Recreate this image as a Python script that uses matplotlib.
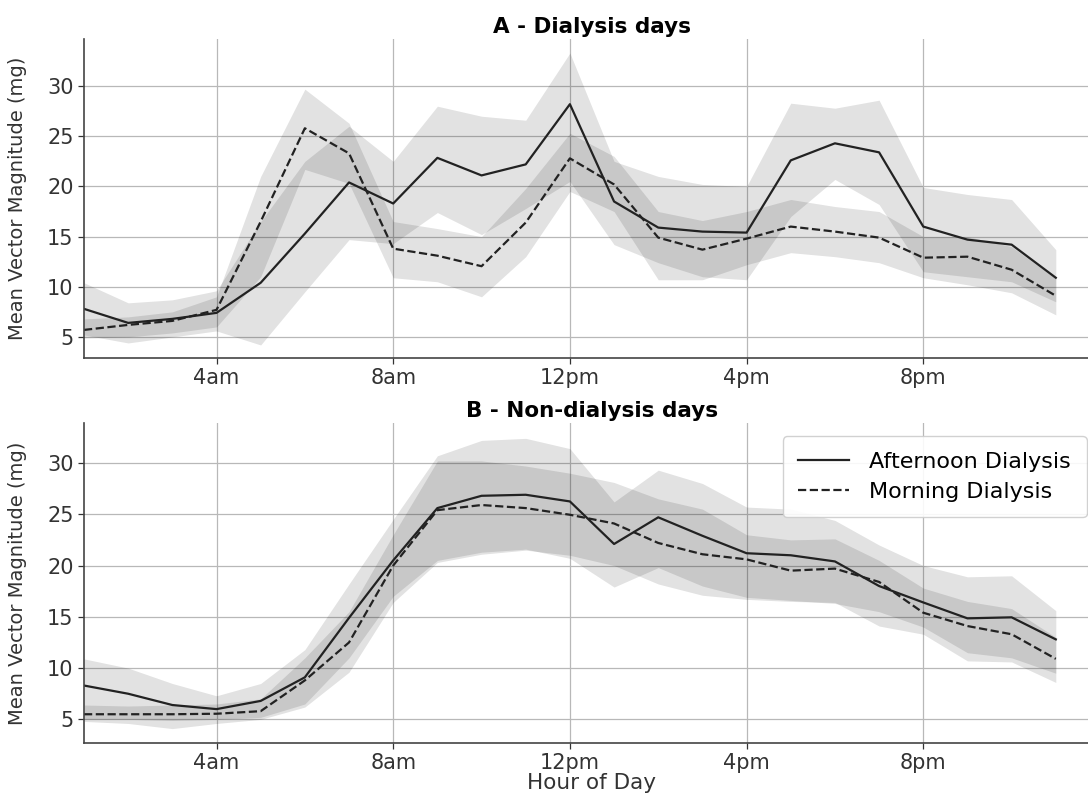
import numpy as np
import matplotlib.pyplot as plt

# hours of the day (1am .. 11pm)
hours = np.arange(1, 24)
tick_pos = [4, 8, 12, 16, 20]
tick_labels = ['4am', '8am', '12pm', '4pm', '8pm']

# A - dialysis days
dial_aft = [7.8, 6.4, 6.8, 7.4, 10.4, 15.3, 20.4, 18.3, 22.85, 21.1, 22.2, 28.2,
            18.5, 15.9, 15.5, 15.4, 22.6, 24.3, 23.4, 16.0, 14.7, 14.2, 10.9]
dial_aft_lo = [5.2, 4.4, 5.0, 5.6, 4.2, 9.5, 14.7, 14.3, 17.4, 15.2, 17.8, 20.5,
               14.2, 12.4, 11.0, 10.7, 17.0, 20.7, 18.2, 11.5, 11.0, 10.5, 8.5]
dial_aft_hi = [10.4, 8.4, 8.7, 9.6, 16.5, 22.5, 26.0, 22.5, 28.0, 27.0, 26.6, 33.3,
               22.5, 21.0, 20.2, 20.0, 28.3, 27.8, 28.6, 19.9, 19.2, 18.7, 13.7]
dial_mor = [5.7, 6.2, 6.6, 7.7, 16.5, 25.8, 23.3, 13.8, 13.1, 12.05, 16.4, 22.8,
            20.2, 14.9, 13.7, 14.8, 16.0, 15.5, 14.9, 12.9, 13.0, 11.7, 9.1]
dial_mor_lo = [4.9, 5.0, 5.4, 6.0, 11.0, 21.7, 20.3, 10.9, 10.5, 9.0, 13.0, 19.5,
               17.5, 10.7, 10.7, 12.2, 13.4, 13.0, 12.4, 10.9, 10.2, 9.4, 7.2]
dial_mor_hi = [6.8, 7.0, 7.5, 9.0, 21.0, 29.7, 26.3, 16.5, 15.8, 15.0, 19.8, 25.3,
               23.0, 17.5, 16.6, 17.5, 18.7, 18.0, 17.5, 15.0, 15.0, 14.0, 10.8]

# B - non-dialysis days
non_aft = [8.3, 7.5, 6.4, 6.0, 6.8, 9.1, 14.9, 20.5, 25.6, 26.8, 26.9, 26.25,
           22.1, 24.7, 22.9, 21.2, 21.0, 20.4, 18.0, 16.4, 14.85, 14.95, 12.8]
non_aft_lo = [5.0, 5.0, 4.9, 5.0, 5.2, 6.5, 11.0, 17.0, 20.5, 21.3, 21.6, 20.7,
              17.9, 19.8, 18.0, 16.9, 16.6, 16.3, 15.5, 14.0, 11.5, 11.0, 9.5]
non_aft_hi = [10.9, 10.0, 8.5, 7.3, 8.5, 11.8, 18.2, 24.5, 30.7, 32.2, 32.4, 31.4,
              26.2, 29.3, 28.0, 25.7, 25.5, 24.4, 22.0, 20.0, 18.9, 19.0, 15.6]
non_mor = [5.5, 5.5, 5.5, 5.55, 5.8, 8.8, 12.5, 20.0, 25.4, 25.9, 25.6, 24.95,
           24.1, 22.2, 21.1, 20.6, 19.5, 19.7, 18.4, 15.4, 14.1, 13.3, 10.9]
non_mor_lo = [4.8, 4.6, 4.1, 4.6, 5.0, 6.2, 9.6, 16.4, 20.3, 21.1, 21.5, 21.0,
              20.0, 18.2, 17.1, 16.7, 16.5, 16.4, 14.1, 13.3, 10.7, 10.6, 8.6]
non_mor_hi = [6.4, 6.3, 6.4, 6.5, 7.0, 11.0, 15.5, 23.0, 30.2, 30.2, 29.7, 29.0,
              28.1, 26.5, 25.5, 23.0, 22.5, 22.6, 20.5, 17.8, 16.5, 15.8, 13.0]

plt.rcParams['font.family'] = 'DejaVu Sans'
fs = 15
line_col = '#222222'

fig = plt.figure(figsize=(10.88, 7.97), dpi=100)
ax1 = fig.add_axes([0.0772, 0.5508, 0.9338, 0.4003])
ax2 = fig.add_axes([0.0772, 0.0678, 0.9338, 0.4015])

panels = [
    (ax1, 'A - Dialysis days', dial_aft, dial_aft_lo, dial_aft_hi,
     dial_mor, dial_mor_lo, dial_mor_hi, (2.9, 34.7)),
    (ax2, 'B - Non-dialysis days', non_aft, non_aft_lo, non_aft_hi,
     non_mor, non_mor_lo, non_mor_hi, (2.7, 33.9)),
]

for ax, title, aft, aft_lo, aft_hi, mor, mor_lo, mor_hi, ylim in panels:
    ax.fill_between(hours, aft_lo, aft_hi, color='k', alpha=0.115, lw=0)
    ax.fill_between(hours, mor_lo, mor_hi, color='k', alpha=0.115, lw=0)
    ax.plot(hours, aft, color=line_col, lw=1.6, ls='-', label='Afternoon Dialysis')
    ax.plot(hours, mor, color=line_col, lw=1.6, ls='--', label='Morning Dialysis')

    ax.set_xlim(1, 24)
    ax.set_ylim(*ylim)
    ax.set_xticks(tick_pos)
    ax.set_xticklabels(tick_labels)
    ax.set_yticks([5, 10, 15, 20, 25, 30])
    ax.tick_params(labelsize=fs, colors='#333333', length=4, width=0.9)
    ax.grid(True, color='#b8b8b8', lw=0.9)
    ax.set_axisbelow(True)
    for side in ['top', 'right']:
        ax.spines[side].set_visible(False)
    for side in ['left', 'bottom']:
        ax.spines[side].set_color('#444444')
        ax.spines[side].set_linewidth(1.2)
    ax.set_ylabel('Mean Vector Magnitude (mg)', fontsize=14, color='#333333')
    ax.set_title(title, fontsize=15.5, fontweight='bold', pad=4)

ax1.yaxis.set_label_coords(-0.056, 0.5)
ax2.yaxis.set_label_coords(-0.056, 0.5)
ax2.set_xlabel('Hour of Day', fontsize=fs + 0.5, color='#333333', labelpad=0)

ax2.legend(loc='upper right', fontsize=16, frameon=True, framealpha=0.9,
           edgecolor='#cccccc', handlelength=2.3, borderpad=0.7,
           labelspacing=0.45, handletextpad=0.9, borderaxespad=0.6)

fig.savefig('out.png', dpi=100)
